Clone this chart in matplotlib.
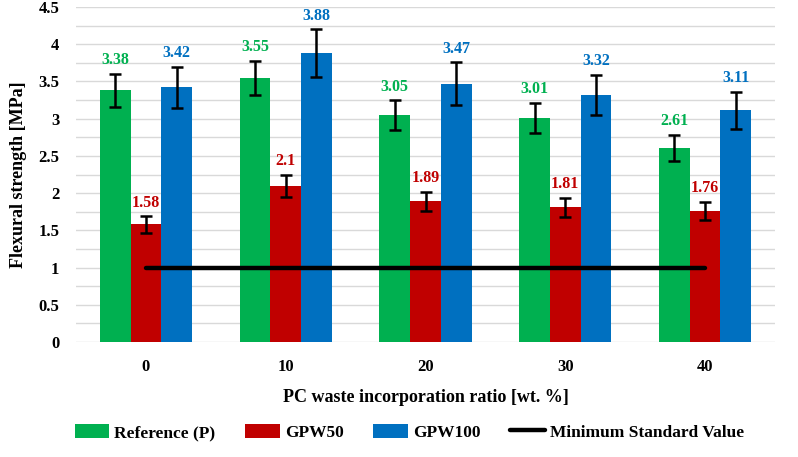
import numpy as np
import matplotlib.pyplot as plt
from matplotlib.ticker import MultipleLocator, FuncFormatter

ratios = ['0', '10', '20', '30', '40']
series = ['Reference (P)', 'GPW50', 'GPW100']
ref_vals = [3.38, 3.55, 3.05, 3.01, 2.61]
gpw50_vals = [1.58, 2.10, 1.89, 1.81, 1.76]
gpw100_vals = [3.42, 3.88, 3.47, 3.32, 3.11]
ref_err = [0.22, 0.23, 0.20, 0.20, 0.175]
gpw50_err = [0.11, 0.15, 0.13, 0.13, 0.12]
gpw100_err = [0.28, 0.32, 0.29, 0.27, 0.25]
labels_txt = [['3.38', '3.55', '3.05', '3.01', '2.61'],
              ['1.58', '2.1', '1.89', '1.81', '1.76'],
              ['3.42', '3.88', '3.47', '3.32', '3.11']]
min_standard = 1.0
colors = ['#00B050', '#C00000', '#0070C0']

plt.rcParams['font.family'] = ['Liberation Serif', 'DejaVu Serif']
plt.rcParams['font.weight'] = 'bold'

fig = plt.figure(figsize=(7.98, 4.57), dpi=100)
ax = fig.add_axes([76 / 798, 1 - 342 / 457, 699 / 798, 335 / 457])

x = np.arange(len(ratios))
w = 0.22
vals = [ref_vals, gpw50_vals, gpw100_vals]
errs = [ref_err, gpw50_err, gpw100_err]
for i in range(3):
    xs = x + (i - 1) * w
    ax.bar(xs, vals[i], w, color=colors[i], label=series[i], zorder=2)
    ax.errorbar(xs, vals[i], yerr=errs[i], fmt='none', ecolor='black',
                elinewidth=1.8, capsize=4, capthick=1.8, zorder=3)
    for j in range(len(x)):
        ax.annotate(labels_txt[i][j], (xs[j], vals[i][j] + errs[i][j]),
                    xytext=(0, 4), textcoords='offset points', ha='center',
                    va='bottom', color=colors[i], fontsize=11.5, fontweight='bold')

ax.plot([x[0], x[-1]], [min_standard, min_standard], color='black', lw=3.2,
        solid_capstyle='round', label='Minimum Standard Value', zorder=4)

ax.set_xlim(-0.5, 4.5)
ax.set_ylim(0, 4.5)
ax.set_xticks(x)
ax.set_xticklabels(ratios)
ax.yaxis.set_major_locator(MultipleLocator(0.5))
ax.yaxis.set_minor_locator(MultipleLocator(0.25))
ax.yaxis.set_major_formatter(FuncFormatter(lambda v, p: '%g' % v))
ax.grid(axis='y', which='both', color='#d9d9d9', lw=1, zorder=0)
ax.set_axisbelow(True)
for s in ax.spines.values():
    s.set_visible(False)
ax.tick_params(axis='both', which='both', length=0, labelsize=12)
ax.tick_params(axis='x', pad=12)
ax.tick_params(axis='y', pad=12)
ax.set_xlabel('PC waste incorporation ratio [wt. %]', fontsize=13, fontweight='bold', labelpad=10)
ax.set_ylabel('Flexural strength [MPa]', fontsize=13, fontweight='bold', labelpad=8)

handles, labs = ax.get_legend_handles_labels()
order = [1, 2, 3, 0]
ax.legend([handles[k] for k in order], [labs[k] for k in order],
          loc='center', bbox_to_anchor=(0.477, -0.27), ncol=4, frameon=False,
          fontsize=12.5, handlelength=2.0, handleheight=0.9, columnspacing=1.7,
          handletextpad=0.3)

fig.savefig('out.png', dpi=100)
